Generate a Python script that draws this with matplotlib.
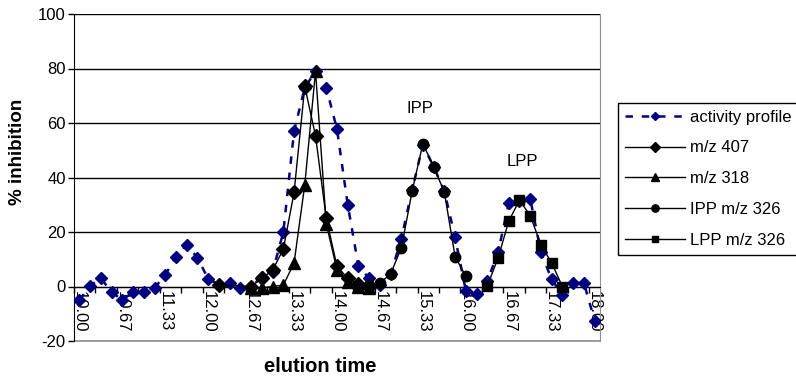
'''
Elution profile: % inhibition of the activity fractions vs. the
extracted ion traces (m/z 407, m/z 318, IPP and LPP m/z 326).
'''

import numpy as np
from matplotlib import pyplot as plt

plt.rcParams['font.family'] = ['Liberation Sans', 'DejaVu Sans']
plt.rcParams['axes.unicode_minus'] = False

# x axis: one category per fraction (10.00 .. 18.00 min), label every 4th
tick_labels = ["10.00", "10.67", "11.33", "12.00", "12.67", "13.33", "14.00",
               "14.67", "15.33", "16.00", "16.67", "17.33", "18.00"]

N = None
activity = [-5, 0.3, 3, -2, -5, -2, -2, -0.5, 4.2, 11,
            15.3, 10.5, 2.8, 0.7, 1.2, -0.5, 0, 3.5, 5.3, 20,
            57, 73, 79, 73, 57.7, 30, 7.4, 3, 0.7, 4.5,
            17.6, 35.5, 52, 44, 35, 18, -1.5, -2.8, 2, 12.5,
            30.5, 31.5, 32.2, 12.5, 2.6, -3.2, 1.3, 1.3, -12.5]

mz407 = [N, N, N, N, N, N, N, N, N, N,
         N, N, N, 0.5, N, N, 0, 3, 6, 13.7,
         34.5, 73.4, 55.3, 25, 7.4, 3, 1, 0, N, N,
         N, N, N, N, N, N, N, N, N, N,
         N, N, N, N, N, N, N, N, N]

mz318 = [N, N, N, N, N, N, N, N, N, N,
         N, N, N, N, N, N, -0.5, -0.5, 0, 0.5,
         8.6, 37.4, 79, 23, 6, 1.5, 0, -0.5, N, N,
         N, N, N, N, N, N, N, N, N, N,
         N, N, N, N, N, N, N, N, N]

ipp326 = [N, N, N, N, N, N, N, N, N, N,
          N, N, N, N, N, N, N, N, N, N,
          N, N, N, N, N, N, 0, 0.5, 1.2, 4.7,
          14.2, 35, 52.4, 44, 34.6, 11, 3.7, N, N, N,
          N, N, N, N, N, N, N, N, N]

lpp326 = [N, N, N, N, N, N, N, N, N, N,
          N, N, N, N, N, N, N, N, N, N,
          N, N, N, N, N, N, N, N, N, N,
          N, N, N, N, N, N, N, N, 0.2, 10.4,
          24, 31.7, 26, 15.3, 8.6, 0, N, N, N]


def plot_series(ax, values, **kw):
    # blank cells are skipped, the line joins the remaining points
    y = np.array([np.nan if v is None else v for v in values], dtype=float)
    x = np.arange(len(y))
    ok = ~np.isnan(y)
    return ax.plot(x[ok], y[ok], **kw)[0]


def main():
    fig = plt.figure(figsize=(7.96, 3.80), dpi=100)
    ax = fig.add_axes([74 / 796, 1 - 341 / 380, 526 / 796, 327 / 380])

    # horizontal axis crosses at 0 (set first: it resets the ticks)
    ax.spines['bottom'].set_position(('data', 0))
    ax.spines['bottom'].set_color('black')
    ax.spines['left'].set_color('black')
    ax.spines['top'].set_visible(False)
    ax.spines['right'].set_color('#909090')

    n = len(activity)
    h1 = plot_series(ax, activity, color='#000080', lw=1.8, dashes=(3, 3.5),
                     marker='D', ms=6, mec='#000080', mfc='#000080', zorder=3,
                     label='activity profile')
    h2 = plot_series(ax, mz407, color='black', lw=1, marker='D', ms=7.5,
                     zorder=4, label='m/z 407')
    h3 = plot_series(ax, mz318, color='black', lw=1, marker='^', ms=8,
                     zorder=4, label='m/z 318')
    h4 = plot_series(ax, ipp326, color='black', lw=1, marker='o', ms=7.5,
                     zorder=4, label='IPP m/z 326')
    h5 = plot_series(ax, lpp326, color='black', lw=1, marker='s', ms=6.5,
                     zorder=4, label='LPP m/z 326')

    ax.set_xlim(-0.5, n - 0.5)
    ax.set_ylim(-20, 100)
    ax.set_yticks([-20, 0, 20, 40, 60, 80, 100])
    ax.grid(axis='y', color='black', lw=1)
    ax.set_axisbelow(True)
    ax.axhline(-20, color='#909090', lw=1.2, clip_on=False)

    # category labels every 4th fraction, tick marks every 2nd boundary
    ax.set_xticks(np.arange(0, n, 4))
    ax.set_xticklabels(tick_labels)
    ax.set_xticks(np.arange(-0.5, n, 2), minor=True)
    ax.tick_params(axis='x', which='major', length=0, pad=3, labelsize=12,
                   labelrotation=-90)
    ax.tick_params(axis='x', which='minor', length=4, width=1,
                   direction='out', color='black')
    ax.tick_params(axis='y', length=4, width=1, direction='out',
                   labelsize=12, pad=2)

    ax.text(31.7, 65.5, 'IPP', fontsize=12, ha='center', va='center')
    ax.text(41.3, 46, 'LPP', fontsize=12, ha='center', va='center')

    fig.text(18 / 796, 1 - 152 / 380, '% inhibition', rotation=90,
             fontsize=13.5, fontweight='bold', ha='center', va='center')
    fig.text(320 / 796, 1 - 366 / 380, 'elution time', fontsize=14.5,
             fontweight='bold', ha='center', va='center')

    leg = fig.legend(handles=[h1, h2, h3, h4, h5], loc='upper left',
                     bbox_to_anchor=(618 / 796, 1 - 103 / 380),
                     fontsize=12, frameon=True, fancybox=False,
                     edgecolor='black', framealpha=1, handlelength=3.6,
                     handletextpad=0.3, labelspacing=0.95, borderpad=0.4,
                     borderaxespad=0, markerscale=0.7)
    leg.get_frame().set_linewidth(1)

    fig.savefig('out.png', dpi=100)


if __name__ == "__main__":
    main()
